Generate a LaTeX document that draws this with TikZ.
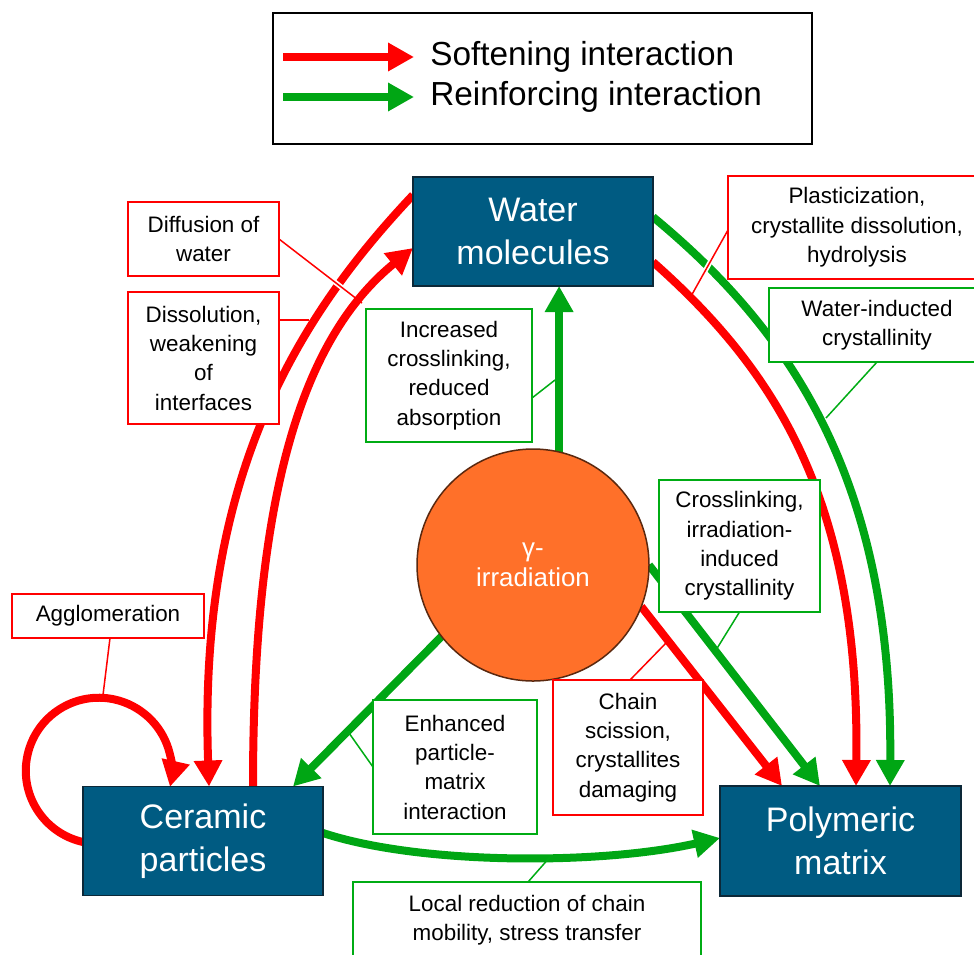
\documentclass[tikz,border=0pt]{standalone}
\usepackage{fontspec}
\setmainfont{Liberation Sans}
\usetikzlibrary{arrows.meta,calc}
\definecolor{sred}{RGB}{255,0,0}
\definecolor{rgreen}{RGB}{0,166,20}
\definecolor{lblgreen}{RGB}{0,172,20}
\definecolor{boxblue}{RGB}{0,91,130}
\definecolor{boxedge}{RGB}{12,40,56}
\definecolor{irrorange}{RGB}{255,112,41}
\definecolor{irredge}{RGB}{90,40,15}
\pgfdeclarelayer{bg}
\pgfsetlayers{bg,main}
\tikzset{
  mainbox/.style={draw=boxedge, line width=1.125pt, fill=boxblue, text=white,
    font=\fontsize{25.5}{32}\selectfont, align=center, minimum width=180pt,
    minimum height=81.75pt, inner sep=0pt, outer sep=0pt},
  lbl/.style={fill=white, line width=1.125pt, align=center, text=black,
    font=\fontsize{16.8}{22}\selectfont, inner sep=0pt, outer sep=0pt},
  rlbl/.style={lbl, draw=sred},
  glbl/.style={lbl, draw=lblgreen},
  soft/.style={draw=sred, line width=6pt, -{Triangle[length=19.5pt,width=20.25pt]}},
  reinf/.style={draw=rgreen, line width=6pt, -{Triangle[length=19.5pt,width=20.25pt]}},
  rcon/.style={draw=sred, line width=1.125pt},
  gcon/.style={draw=lblgreen, line width=1.125pt},
  halo/.style={draw=white, line width=3.75pt},
  legtext/.style={anchor=west, font=\fontsize{25}{30}\selectfont, inner sep=0pt}
}
\begin{document}
\begin{tikzpicture}[x=0.75pt, y=0.75pt]
\useasboundingbox (0,0) rectangle (974,-954);
\clip (0,0) rectangle (974,-954);

% legend
\node[draw=black, line width=1.5pt, minimum width=404.25pt, minimum height=98.25pt,
  inner sep=0pt, outer sep=0pt] (legend) at (542.5,-78) {};
\draw[soft] ($(legend.west)+(10,21)$) -- ($(legend.west)+(141,21)$);
\draw[reinf] ($(legend.west)+(10,-19)$) -- ($(legend.west)+(141,-19)$);
\node[legtext] (lsoft) at (430,-57) {Softening interaction};
\node[legtext] (lreinf) at (430,-97) {Reinforcing interaction};

% main nodes
\node[mainbox] (water) at (533,-231.5) {Water\\molecules};
\node[mainbox] (ceramic) at (203,-841) {Ceramic\\particles};
\node[mainbox, minimum width=180.75pt, minimum height=82.5pt] (polymer) at (840.5,-841) {Polymeric\\matrix};
\node[circle, draw=irredge, line width=1.125pt, fill=irrorange, minimum size=174pt,
  inner sep=0pt, outer sep=0pt, text=white, align=center,
  font=\fontsize{19.4}{22.5}\selectfont] (irr) at (533,-565) {γ-\\irradiation};

% thick interaction arrows
\begin{pgfonlayer}{bg}
\draw[soft] ($(water.west)+(0,36.5)$) .. controls (295,-320) and (198,-480) .. ($(ceramic.north)+(6,0)$);
\draw[soft] ($(ceramic.north)+(50,0)$) .. controls (253,-500) and (300,-340) .. ($(water.west)+(0,-16.5)$);
\draw[soft] ($(water.east)+(0,-30.5)$) .. controls (775,-370) and (860,-500) .. ($(polymer.north)+(15.5,0)$);
\draw[reinf] ($(water.east)+(0,14.5)$) .. controls (790,-330) and (893,-480) .. ($(polymer.north)+(49.5,0)$);
\draw[reinf] (irr.77.5) -- (irr.77.5 |- water.south);
\draw[reinf] (irr.east) -- ($(polymer.north)+(-20.5,0)$);
\draw[soft] (irr.-21) -- ($(polymer.north)+(-58.5,0)$);
\draw[reinf] (irr.-142) -- ($(ceramic.north)+(90,0)$);
\draw[reinf] ($(ceramic.east)+(0,8)$) .. controls (420,-865) and (600,-865) .. ($(polymer.west)+(0,3)$);
\draw[soft] ($(ceramic.west)+(0,-1)$) arc[start angle=-102.5, end angle=-372.7, radius=73];
\end{pgfonlayer}

% label boxes
\node[rlbl, minimum width=113.25pt, minimum height=55.5pt] (diff) at (203.5,-239) {Diffusion of\\water};
\node[rlbl, minimum width=113.25pt, minimum height=99pt] (diss) at (203.5,-358) {Dissolution,\\weakening\\of\\interfaces};
\node[glbl, minimum width=124.5pt, minimum height=99.75pt] (incr) at (449,-375.5) {Increased\\crosslinking,\\reduced\\absorption};
\node[rlbl, minimum width=193.5pt, minimum height=77.25pt] (plast) at (857,-227.5) {Plasticization,\\crystallite dissolution,\\hydrolysis};
\node[glbl, minimum width=162pt, minimum height=55.5pt] (wind) at (877,-325) {Water-inducted\\crystallinity};
\node[glbl, minimum width=120.75pt, minimum height=99pt] (cross) at (739.5,-546) {Crosslinking,\\irradiation-\\induced\\crystallinity};
\node[rlbl, minimum width=144pt, minimum height=33pt] (aggl) at (108,-616) {Agglomeration};
\node[rlbl, minimum width=112.5pt, minimum height=101.25pt] (chain) at (628,-747.5) {Chain\\scission,\\crystallites\\damaging};
\node[glbl, minimum width=123pt, minimum height=100.5pt] (enh) at (455,-767) {Enhanced\\particle-\\matrix\\interaction};
\node[glbl, minimum width=261pt, minimum height=57pt] (local) at (527,-920) {Local reduction of chain\\mobility, stress transfer};

% label connectors
\coordinate (cD) at (362,-303);
\coordinate (cDs) at (309,-320);
\coordinate (cI) at (555,-380);
\coordinate (cP) at (690,-298);
\coordinate (cW) at (826,-418);
\coordinate (cC) at (716,-650);
\coordinate (cA) at (103,-695);
\coordinate (cCh) at (666,-643);
\coordinate (cE) at (349,-733);
\coordinate (cL) at (550,-857);
\coordinate (pS) at ($(plast.west)+(0,-2.5)$);

\draw[halo] ($(diff.east)!0.6!(cD)$) -- ($(diff.east)!0.88!(cD)$);
\draw[rcon] (diff.east) -- (cD);
\draw[rcon] (cDs -| diss.east) -- (cDs);
\draw[gcon] ($(incr.east)+(0,-22.5)$) -- (cI);
\draw[halo] ($(pS)!0.35!(cP)$) -- ($(pS)!0.7!(cP)$);
\draw[rcon] (pS) -- (cP);
\draw[gcon] (wind.south) -- (cW);
\draw[gcon] (cross.south) -- (cC);
\draw[rcon] ($(aggl.south)+(2,0)$) -- (cA);
\draw[rcon] ($(chain.north)+(2,0)$) -- (cCh);
\draw[gcon] (enh.west) -- (cE);
\draw[gcon] ($(local.north)+(1,0)$) -- (cL);
\end{tikzpicture}
\end{document}
